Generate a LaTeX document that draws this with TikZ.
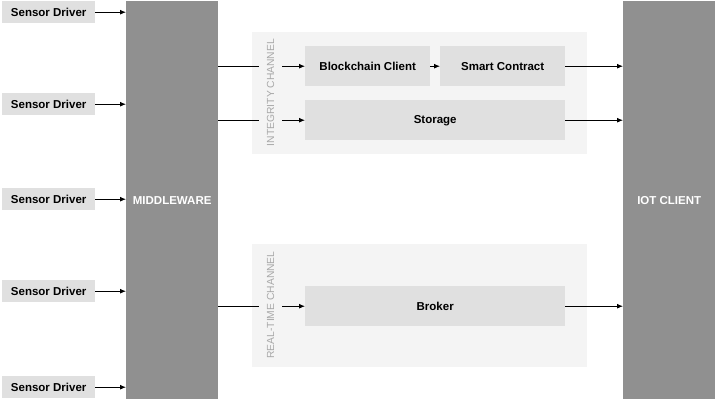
\documentclass[tikz,border=0pt]{standalone}
\usepackage{fontspec}
\setmainfont{Liberation Sans}
\usetikzlibrary{arrows.meta}
\definecolor{big}{HTML}{909090}
\definecolor{boxc}{HTML}{E0E0E0}
\definecolor{panel}{HTML}{F4F4F4}
\definecolor{lbl}{HTML}{A8A8A8}
\tikzset{
 blk/.style={fill=big, draw=none, inner sep=0, anchor=north west, minimum width=92pt, minimum height=398pt, text=white, font=\bfseries\fontsize{11.5}{12}\selectfont},
 sensor/.style={fill=boxc, anchor=north west, inner sep=0, minimum width=93pt, minimum height=22pt, font=\bfseries\fontsize{11.5}{12}\selectfont},
 panelbox/.style={fill=panel, anchor=north west, inner sep=0, minimum width=335pt},
 comp/.style={fill=boxc, anchor=north west, inner sep=0, minimum height=40pt, font=\bfseries\fontsize{11.5}{12}\selectfont},
 chlabel/.style={rotate=90, fill=panel, text=lbl, font=\fontsize{10.3}{12}\selectfont, inner xsep=0pt, inner ysep=7.9pt},
 arr/.style={-{Latex[length=6pt,width=5pt]}, line width=0.9pt},
}
\begin{document}
\begin{tikzpicture}[x=1pt,y=-1pt]
\useasboundingbox (0,0) rectangle (715,400);
% big blocks
\node[blk] (mw) at (126,1) {MIDDLEWARE};
\node[blk] (iot) at (623,1) {IOT CLIENT};
% sensors
\node[sensor] (s1) at (2,1) {Sensor Driver};
\node[sensor] (s2) at (2,93) {Sensor Driver};
\node[sensor] (s3) at (2,188) {Sensor Driver};
\node[sensor] (s4) at (2,280) {Sensor Driver};
\node[sensor] (s5) at (2,376) {Sensor Driver};
\foreach \s in {s1,s2,s3,s4,s5}{
  \draw[arr] (\s.east) -- (mw.west |- \s.east);
}
% panels
\node[panelbox, minimum height=122pt] (pi) at (252,32) {};
\node[panelbox, minimum height=123pt] (pr) at (252,244) {};
% components
\node[comp, minimum width=125pt] (bc) at (305,46) {Blockchain Client};
\node[comp, minimum width=125pt] (sc) at (440,46) {Smart Contract};
\node[comp, minimum width=260pt] (st) at (305,100) {Storage};
\node[comp, minimum width=260pt] (br) at (305,286) {Broker};
% connectors
\draw[arr] (mw.east |- bc.west) -- (bc.west);
\draw[arr] (bc.east) -- (sc.west);
\draw[arr] (sc.east) -- (iot.west |- sc.east);
\draw[arr] (mw.east |- st.west) -- (st.west);
\draw[arr] (st.east) -- (iot.west |- st.east);
\draw[arr] (mw.east |- br.west) -- (br.west);
\draw[arr] (br.east) -- (iot.west |- br.east);
% channel labels
\node[chlabel] (li) at (270.5,92.5) {INTEGRITY CHANNEL};
\node[chlabel] (lr) at (270.5,305) {REAL-TIME CHANNEL};
\end{tikzpicture}
\end{document}
